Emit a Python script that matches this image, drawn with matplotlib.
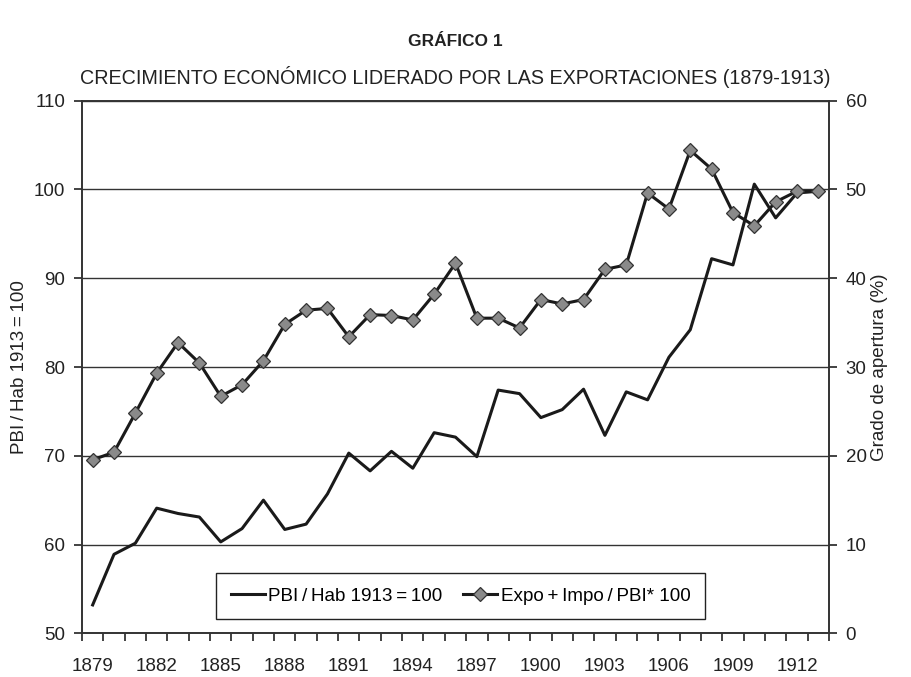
import matplotlib
matplotlib.use("Agg")
import matplotlib.pyplot as plt
from matplotlib.lines import Line2D

plt.rcParams['font.family'] = ['Liberation Sans', 'DejaVu Sans']

years = list(range(1879, 1914))
pbi_hab = [53.2, 58.9, 60.15, 64.1, 63.5, 63.1, 60.3, 61.8, 65.0, 61.7,
           62.3, 65.7, 70.3, 68.3, 70.5, 68.6, 72.6, 72.1, 69.9, 77.4,
           77.0, 74.3, 75.2, 77.5, 72.3, 77.2, 76.3, 81.1, 84.2, 92.2,
           91.5, 100.6, 96.8, 99.6, 99.8]
apertura = [19.55, 20.4, 24.8, 29.3, 32.75, 30.45, 26.7, 28.0, 30.7, 34.8,
            36.4, 36.6, 33.4, 35.9, 35.8, 35.3, 38.2, 41.7, 35.5, 35.5,
            34.4, 37.6, 37.1, 37.6, 41.0, 41.5, 49.6, 47.8, 54.4, 52.3,
            47.4, 45.9, 48.6, 49.8, 49.8]
left_ticks = [50, 60, 70, 80, 90, 100, 110]
right_ticks = [0, 10, 20, 30, 40, 50, 60]
label_years = [1879, 1882, 1885, 1888, 1891, 1894, 1897, 1900, 1903, 1906, 1909, 1912]

fig = plt.figure(figsize=(9.11, 6.77), dpi=100)
ax = fig.add_axes([0.090, 0.0645, 0.820, 0.7868])
ax2 = ax.twinx()

x = list(range(len(years)))
ax.plot(x, pbi_hab, color='#1a1a1a', lw=2.2, zorder=3)
ax2.plot(x, apertura, color='#1a1a1a', lw=2.2, marker='D', markersize=7,
         markerfacecolor='#8a8a8a', markeredgecolor='#333333', markeredgewidth=0.9, zorder=3)

ax.set_xlim(-0.5, len(years) - 0.5)
ax.set_ylim(50, 110)
ax2.set_ylim(0, 60)
ax.set_yticks(left_ticks)
ax2.set_yticks(right_ticks)
for v in left_ticks:
    ax.axhline(v, color='#333333', lw=1.0, zorder=1)

# x ticks: marks between categories, labels at category centers
ax.set_xticks([i - 0.5 for i in range(len(years) + 1)])
ax.set_xticklabels([])
ax.tick_params(axis='x', which='major', direction='out', length=6, width=1.2, color='#222222')
ax.set_xticks([years.index(y) for y in label_years], minor=True)
ax.set_xticklabels([str(y) for y in label_years], minor=True)
ax.tick_params(axis='x', which='minor', length=0, pad=18, labelsize=13.5, colors='#222222')

ax.tick_params(axis='y', direction='out', length=6, width=1.2, labelsize=13.5, colors='#222222', pad=6)
ax2.tick_params(axis='y', direction='out', length=6, width=1.2, labelsize=13.5, colors='#222222', pad=6)

for a in (ax, ax2):
    for s in a.spines.values():
        s.set_color('#333333')
        s.set_linewidth(1.2)

ax.set_ylabel('PBI\u2009/\u2009Hab 1913\u2009=\u2009100', fontsize=13.5, color='#222222', labelpad=4)
ax2.set_ylabel('Grado de apertura (%)', fontsize=13.5, color='#222222', labelpad=3)

fig.text(0.5, 0.938, 'GRÁFICO 1', ha='center', va='center', fontsize=12.5, fontweight='bold', color='#222222')
fig.text(0.5, 0.887, 'CRECIMIENTO ECONÓMICO LIDERADO POR LAS EXPORTACIONES (1879-1913)',
         ha='center', va='center', fontsize=14.2, color='#222222')

handles = [Line2D([], [], color='#1a1a1a', lw=2.2),
           Line2D([], [], color='#1a1a1a', lw=2.2, marker='D', markersize=7,
                  markerfacecolor='#8a8a8a', markeredgecolor='#333333', markeredgewidth=0.9)]
leg = ax.legend(handles, ['PBI\u2009/\u2009Hab 1913\u2009=\u2009100', 'Expo\u2009+\u2009Impo\u2009/\u2009PBI* 100'], ncol=2,
                loc='center', bbox_to_anchor=(0.507, 0.07), fontsize=13.6, frameon=True,
                fancybox=False, edgecolor='#222222', framealpha=1, handlelength=1.8,
                handletextpad=0.2, columnspacing=1.1, borderpad=0.75)
leg.get_frame().set_linewidth(1.0)
leg.set_zorder(5)

fig.savefig('out.png', dpi=100)
